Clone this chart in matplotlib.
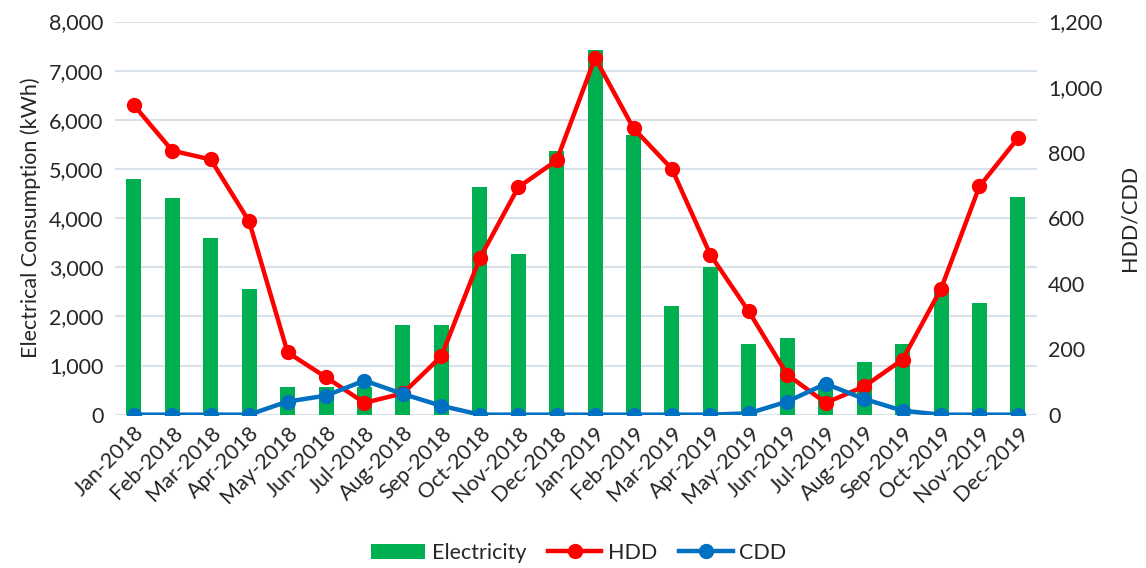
import numpy as np
import matplotlib.pyplot as plt
from matplotlib.ticker import FuncFormatter

plt.rcParams['font.family'] = ['Lato', 'DejaVu Sans']

# data
months = ['Jan-2018', 'Feb-2018', 'Mar-2018', 'Apr-2018', 'May-2018', 'Jun-2018',
          'Jul-2018', 'Aug-2018', 'Sep-2018', 'Oct-2018', 'Nov-2018', 'Dec-2018',
          'Jan-2019', 'Feb-2019', 'Mar-2019', 'Apr-2019', 'May-2019', 'Jun-2019',
          'Jul-2019', 'Aug-2019', 'Sep-2019', 'Oct-2019', 'Nov-2019', 'Dec-2019']
electricity = [4800, 4400, 3600, 2550, 560, 560, 560, 1830, 1830, 4630, 3270, 5360,
               7430, 5700, 2210, 3000, 1430, 1550, 650, 1070, 1430, 2550, 2280, 4430]
hdd = [945, 806, 779, 590, 190, 114, 36, 65, 178, 477, 694, 776,
       1089, 874, 750, 488, 315, 122, 36, 86, 168, 384, 697, 844]
cdd = [0, 0, 0, 0, 40, 58, 104, 63, 27, 0, 0, 0,
       0, 0, 0, 0, 4, 40, 94, 48, 12, 0, 0, 0]

green = '#00B050'
red = '#FF0000'
blue = '#0070C0'
grid_col = '#D9E1EA'
txt = '#262626'

fig = plt.figure(figsize=(11.46, 5.68), dpi=100)
ax = fig.add_axes([0.1, 0.27, 0.805, 0.692])
ax2 = ax.twinx()

x = np.arange(len(months))
ax.bar(x, electricity, width=0.39, color=green, label='Electricity', zorder=2)
ax2.plot(x, hdd, color=red, lw=3.2, marker='o', ms=10, label='HDD', zorder=3)
ax2.plot(x, cdd, color=blue, lw=3.2, marker='o', ms=10, label='CDD', zorder=4)

ax.set_xlim(-0.5, len(months) - 0.5)
ax.set_ylim(0, 8000)
ax.set_yticks(np.arange(0, 8001, 1000))
ax2.set_ylim(0, 1200)
ax2.set_yticks(np.arange(0, 1201, 200))

fmt = FuncFormatter(lambda v, p: f'{int(v):,}')
ax.yaxis.set_major_formatter(fmt)
ax2.yaxis.set_major_formatter(fmt)

ax.grid(axis='y', color=grid_col, lw=1.5, zorder=0)
ax.set_axisbelow(True)
for a in (ax, ax2):
    for s in a.spines.values():
        s.set_visible(False)
    a.tick_params(length=0, labelsize=15.5, colors=txt, pad=8)

ax.set_xticks(x)
ax.set_xticklabels(months, rotation=45, ha='right', rotation_mode='anchor')
ax.tick_params(axis='x', pad=6)

ax.set_ylabel('Electrical Consumption (kWh)', fontsize=15.5, color=txt, labelpad=6)
ax2.set_ylabel('HDD/CDD', fontsize=15.5, color=txt, labelpad=12)

# put lines above bars
ax.set_zorder(1)
ax2.set_zorder(2)
ax2.patch.set_visible(False)

h1, l1 = ax.get_legend_handles_labels()
h2, l2 = ax2.get_legend_handles_labels()
fig.legend(h1 + h2, l1 + l2, loc='center', bbox_to_anchor=(0.505, 0.027), ncol=3,
           frameon=False, fontsize=15.5, handlelength=2.5, columnspacing=1.0,
           handletextpad=0.3)
for t in fig.legends[0].get_texts():
    t.set_color(txt)

fig.savefig('out.png', dpi=100)
